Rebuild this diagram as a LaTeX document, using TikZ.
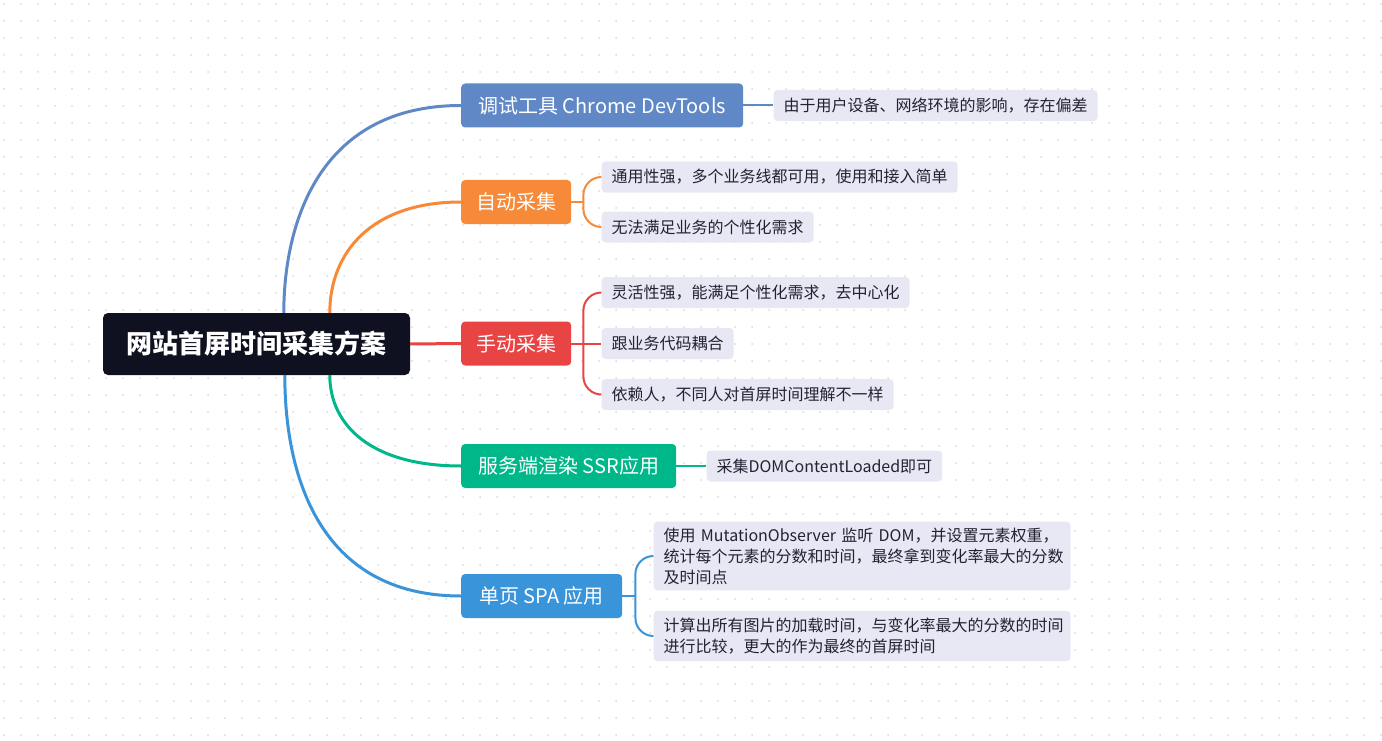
\documentclass[tikz,border=0pt]{standalone}
\usepackage{fontspec}
\setmainfont{Noto Sans CJK SC}
\usetikzlibrary{positioning,calc}
\definecolor{ink}     {HTML}{0F1020}
\definecolor{slate}   {HTML}{6088C6}
\definecolor{amber}   {HTML}{F68A38}
\definecolor{scarlet} {HTML}{E84444}
\definecolor{jade}    {HTML}{00B78A}
\definecolor{sky}     {HTML}{3A94DA}
\definecolor{lilac}   {HTML}{E8E8F4}
\definecolor{leafink} {HTML}{222233}
\definecolor{dotgrey} {HTML}{DADADA}

\begin{document}
\begin{tikzpicture}[x=1pt, y=-1pt,
    root/.style={fill=ink, text=white, rounded corners=5pt,
      font=\fontsize{26}{30}\selectfont\bfseries,
      minimum height=62pt, minimum width=307pt},
    branch/.style={fill=#1, text=white, rounded corners=4pt,
      font=\fontsize{20}{24}\selectfont,
      minimum height=44pt, inner xsep=15pt, anchor=west},
    leaf/.style={fill=lilac, text=leafink, rounded corners=4pt,
      font=\fontsize{16}{21}\selectfont,
      minimum height=31pt, inner xsep=10pt, inner ysep=3.5pt},
    trunk/.style={draw=#1, line width=3pt},
    twig/.style={draw=#1, line width=2pt},
    fork/.style={draw=#1, line width=2pt, rounded corners=18pt}]

  \useasboundingbox (0,0) rectangle (1382,741);
  \fill[white] (0,0) rectangle (1382,741);
  \foreach \i in {0,...,81}
    \foreach \j in {0,...,43}
      \fill[dotgrey] (4+17*\i, 4+17*\j) circle (1);

  \node[root] (root) at (256.5,344) {网站首屏时间采集方案};

  \node[branch=slate, minimum width=282pt] (devtools) at (461,105.5) {调试工具 Chrome DevTools};
  \node[branch=amber]   (auto)     at (461,202)   {自动采集};
  \node[branch=scarlet] (manual)   at (461,343.5) {手动采集};
  \node[branch=jade, minimum width=215pt] (ssr) at (461,466) {服务端渲染 SSR应用};
  \node[branch=sky, minimum width=161pt]  (spa) at (461,596) {单页 SPA 应用};

  \node[leaf, right=30pt of devtools] (devtoolsnote) {由于用户设备、网络环境的影响，存在偏差};
  \node[leaf, right=30pt of auto, yshift=25pt]  (autopro) {通用性强，多个业务线都可用，使用和接入简单};
  \node[leaf, right=30pt of auto, yshift=-25pt] (autocon) {无法满足业务的个性化需求};
  \node[leaf, right=30pt of manual, yshift=51pt]  (manualpro) {灵活性强，能满足个性化需求，去中心化};
  \node[leaf, right=30pt of manual]               (manualcon) {跟业务代码耦合};
  \node[leaf, right=30pt of manual, yshift=-51pt] (manualdep) {依赖人，不同人对首屏时间理解不一样};
  \node[leaf, right=30pt of ssr] (ssrnote) {采集DOMContentLoaded即可};
  \node[leaf, right=31pt of spa, yshift=40pt, text width=397pt, align=left, inner ysep=6pt] (spaobserve)
    {使用 MutationObserver 监听 DOM，并设置元素权重，\\统计每个元素的分数和时间，最终拿到变化率最大的分数\\及时间点};
  \node[leaf, right=31pt of spa, yshift=-40pt, text width=397pt, align=left, inner ysep=7pt] (spaimage)
    {计算出所有图片的加载时间，与变化率最大的分数的时间\\进行比较，更大的作为最终的首屏时间};

  \draw[trunk=slate] ($(root.north west)+(181,0)$) .. controls +(0,-85) and +(-145,0) .. (devtools.west);
  \draw[trunk=amber] ($(root.north west)+(227,0)$) .. controls +(0,-60) and +(-90,0) .. (auto.west);
  \draw[trunk=scarlet] (root.east) -- (manual.west);
  \draw[trunk=jade] ($(root.south west)+(227,0)$) .. controls +(0,50) and +(-90,0) .. (ssr.west);
  \draw[trunk=sky] ($(root.south west)+(182,0)$) .. controls +(0,95) and +(-145,0) .. (spa.west);

  \draw[twig=slate] (devtools.east) -- (devtoolsnote.west);

  \draw[twig=amber] (auto.east) -- ++(12,0) coordinate (autofork);
  \draw[fork=amber] (autofork) |- (autopro.west);
  \draw[fork=amber] (autofork) |- (autocon.west);

  \draw[twig=scarlet] (manual.east) -- (manualcon.west);
  \coordinate (manualfork) at ($(manual.east)+(12,0)$);
  \draw[fork=scarlet] (manualfork) |- (manualpro.west);
  \draw[fork=scarlet] (manualfork) |- (manualdep.west);

  \draw[twig=jade] (ssr.east) -- (ssrnote.west);

  \draw[twig=sky] (spa.east) -- ++(13,0) coordinate (spafork);
  \draw[fork=sky] (spafork) |- (spaobserve.west);
  \draw[fork=sky] (spafork) |- (spaimage.west);
\end{tikzpicture}
\end{document}
